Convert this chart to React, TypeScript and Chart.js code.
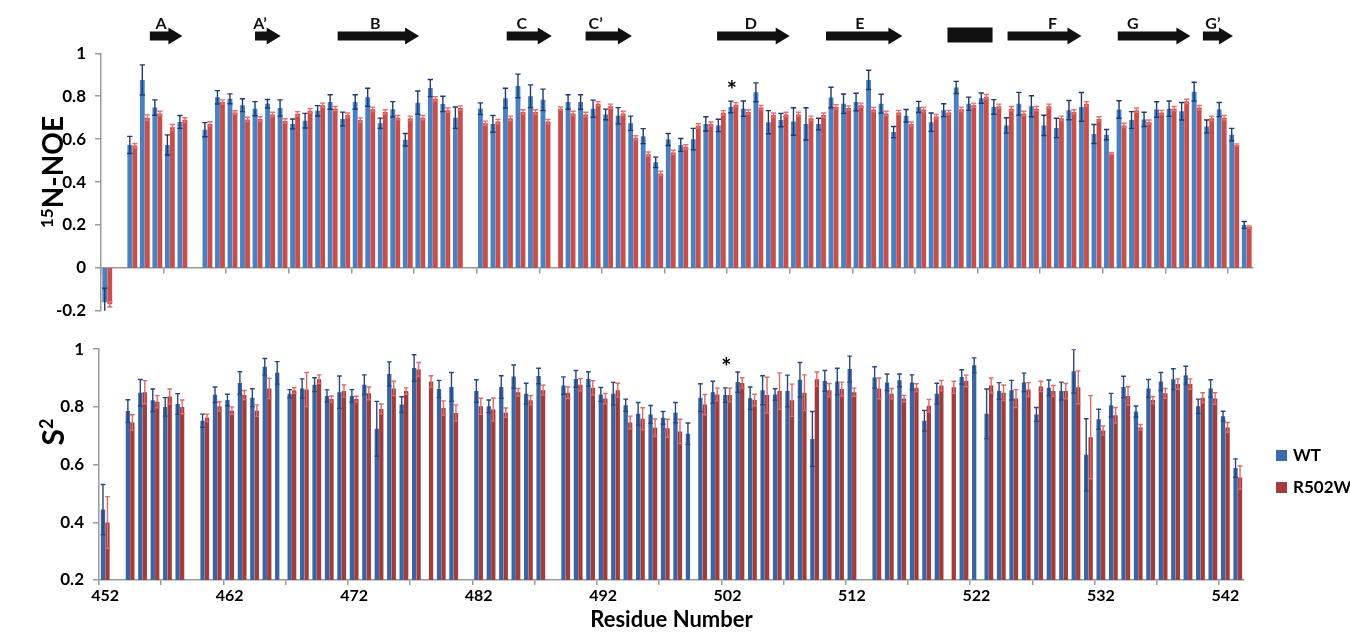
import React, { useEffect, useRef } from "react";
import { Chart, registerables } from "chart.js";

Chart.register(...registerables);

// ---------------- data ----------------
const residues = [
  452, 453, 454, 455, 456, 457, 458, 459, 460, 461,
  462, 463, 464, 465, 466, 467, 468, 469, 470, 471,
  472, 473, 474, 475, 476, 477, 478, 479, 480, 481,
  482, 483, 484, 485, 486, 487, 488, 489, 490, 491,
  492, 493, 494, 495, 496, 497, 498, 499, 500, 501,
  502, 503, 504, 505, 506, 507, 508, 509, 510, 511,
  512, 513, 514, 515, 516, 517, 518, 519, 520, 521,
  522, 523, 524, 525, 526, 527, 528, 529, 530, 531,
  532, 533, 534, 535, 536, 537, 538, 539, 540, 541,
  542, 543,
];

const wtNoe = [
  -0.16, null, 0.573, 0.876, 0.747, 0.573, 0.68, null, 0.644, 0.795,
  0.788, 0.758, 0.742, 0.765, 0.745, 0.671, 0.686, 0.732, 0.773, 0.694,
  0.773, 0.795, 0.674, 0.739, 0.597, 0.77, 0.838, 0.764, 0.7, null,
  0.742, 0.671, 0.791, 0.848, 0.8, 0.783, null, 0.773, 0.773, 0.742,
  0.715, 0.709, 0.674, 0.614, 0.492, 0.598, 0.573, 0.6, 0.671, 0.664,
  0.75, 0.742, 0.818, 0.679, 0.689, 0.682, 0.671, 0.67, 0.794, 0.765,
  0.773, 0.876, 0.765, 0.633, 0.709, 0.75, 0.679, 0.735, 0.841, 0.765,
  0.791, 0.75, 0.664, 0.765, 0.753, 0.664, 0.652, 0.735, 0.75, 0.624,
  0.621, 0.738, 0.689, 0.692, 0.738, 0.742, 0.73, 0.821, 0.659, 0.738,
  0.621, 0.2,
];
const wtNoeErr = [
  0.065, null, 0.04, 0.07, 0.036, 0.047, 0.03, null, 0.033, 0.031,
  0.023, 0.03, 0.033, 0.02, 0.038, 0.023, 0.034, 0.024, 0.034, 0.032,
  0.034, 0.042, 0.024, 0.036, 0.029, 0.054, 0.04, 0.036, 0.05, null,
  0.027, 0.039, 0.046, 0.055, 0.053, 0.05, null, 0.034, 0.034, 0.04,
  0.025, 0.038, 0.033, 0.035, 0.024, 0.028, 0.03, 0.05, 0.033, 0.029,
  0.027, 0.036, 0.044, 0.054, 0.031, 0.064, 0.075, 0.027, 0.048, 0.045,
  0.041, 0.045, 0.044, 0.026, 0.029, 0.026, 0.043, 0.03, 0.028, 0.031,
  0.024, 0.034, 0.036, 0.053, 0.049, 0.047, 0.045, 0.045, 0.067, 0.044,
  0.024, 0.041, 0.039, 0.033, 0.036, 0.036, 0.041, 0.044, 0.03, 0.033,
  0.029, 0.016,
];
const mutNoe = [
  -0.17, null, 0.57, 0.7, 0.72, 0.655, 0.69, null, 0.671, 0.773,
  0.724, 0.692, 0.694, 0.715, 0.685, 0.718, 0.732, 0.758, 0.742, 0.712,
  0.689, 0.739, 0.727, 0.7, 0.697, 0.7, 0.788, 0.735, 0.745, null,
  0.674, 0.682, 0.697, 0.727, 0.727, 0.682, 0.742, 0.72, 0.715, 0.765,
  0.753, 0.72, 0.606, 0.53, 0.44, 0.538, 0.564, 0.662, 0.67, 0.723,
  0.76, 0.727, 0.747, 0.712, 0.715, 0.715, 0.697, 0.712, 0.75, 0.745,
  0.758, 0.738, 0.72, 0.724, 0.67, 0.738, 0.705, 0.724, 0.739, 0.758,
  0.798, 0.753, 0.742, 0.72, 0.742, 0.753, 0.697, 0.727, 0.765, 0.694,
  0.533, 0.664, 0.735, 0.679, 0.724, 0.742, 0.776, 0.747, 0.697, 0.7,
  0.573, 0.19,
];
const mutNoeErr = [
  0.012, null, 0.01, 0.013, 0.01, 0.013, 0.01, null, 0.01, 0.01,
  0.008, 0.01, 0.01, 0.01, 0.01, 0.01, 0.01, 0.01, 0.01, 0.01,
  0.01, 0.01, 0.01, 0.01, 0.01, 0.01, 0.01, 0.01, 0.01, null,
  0.01, 0.01, 0.01, 0.01, 0.01, 0.01, 0.008, 0.01, 0.01, 0.01,
  0.01, 0.01, 0.01, 0.01, 0.01, 0.01, 0.01, 0.01, 0.01, 0.01,
  0.01, 0.01, 0.01, 0.01, 0.01, 0.01, 0.01, 0.01, 0.01, 0.01,
  0.01, 0.01, 0.01, 0.01, 0.01, 0.01, 0.01, 0.01, 0.01, 0.01,
  0.01, 0.01, 0.01, 0.01, 0.01, 0.01, 0.01, 0.01, 0.01, 0.01,
  0.005, 0.01, 0.01, 0.01, 0.01, 0.01, 0.01, 0.01, 0.01, 0.01,
  0.005, 0.005,
];

const wtS2 = [
  0.444, null, 0.786, 0.849, 0.823, 0.8, 0.81, null, 0.752, 0.842,
  0.824, 0.883, 0.832, 0.939, 0.918, 0.846, 0.864, 0.877, 0.838, 0.851,
  0.838, 0.877, 0.724, 0.914, 0.808, 0.935, null, 0.862, 0.869, null,
  0.855, 0.802, 0.869, 0.905, 0.846, 0.907, null, 0.874, 0.897, 0.897,
  0.843, 0.846, 0.806, 0.776, 0.774, 0.762, 0.78, 0.707, 0.832, 0.851,
  0.841, 0.886, 0.83, 0.858, 0.843, 0.855, 0.894, 0.689, 0.89, 0.888,
  0.931, null, 0.902, 0.885, 0.892, 0.885, 0.752, 0.846, null, 0.904,
  0.944, 0.776, 0.855, 0.858, 0.885, 0.774, 0.866, 0.855, 0.924, 0.634,
  0.757, 0.806, 0.869, 0.784, 0.864, 0.888, 0.896, 0.91, 0.802, 0.864,
  0.768, 0.588,
];
const wtS2Err = [
  0.087, null, 0.039, 0.046, 0.039, 0.032, 0.036, null, 0.023, 0.027,
  0.02, 0.039, 0.031, 0.029, 0.039, 0.014, 0.033, 0.024, 0.021, 0.056,
  0.022, 0.034, 0.095, 0.042, 0.027, 0.046, null, 0.03, 0.05, null,
  0.039, 0.022, 0.039, 0.04, 0.036, 0.027, null, 0.03, 0.029, 0.025,
  0.024, 0.039, 0.021, 0.039, 0.031, 0.022, 0.035, 0.037, 0.048, 0.038,
  0.025, 0.035, 0.039, 0.05, 0.02, 0.055, 0.06, 0.095, 0.036, 0.046,
  0.045, null, 0.037, 0.029, 0.022, 0.026, 0.036, 0.036, null, 0.025,
  0.026, 0.086, 0.029, 0.034, 0.032, 0.024, 0.027, 0.031, 0.076, 0.125,
  0.035, 0.041, 0.037, 0.019, 0.031, 0.031, 0.036, 0.031, 0.025, 0.03,
  0.017, 0.032,
];
const mutS2 = [
  0.399, null, 0.746, 0.851, 0.818, 0.836, 0.8, null, 0.762, 0.802,
  0.787, 0.841, 0.787, 0.864, null, 0.857, 0.86, 0.896, 0.827, 0.855,
  0.827, 0.847, 0.793, 0.864, 0.855, 0.93, 0.888, 0.796, 0.779, null,
  0.802, 0.791, 0.78, 0.851, 0.823, 0.858, null, 0.849, 0.877, 0.866,
  0.829, 0.858, 0.746, 0.759, 0.728, 0.726, 0.715, null, 0.808, 0.843,
  0.841, 0.883, 0.824, 0.841, 0.855, 0.823, 0.849, 0.896, 0.858, 0.862,
  0.851, null, 0.864, 0.846, 0.829, 0.866, 0.804, 0.874, 0.868, 0.89,
  null, 0.874, 0.849, 0.829, 0.86, 0.871, 0.855, 0.855, 0.868, 0.695,
  0.718, 0.771, 0.838, 0.729, 0.824, 0.847, 0.879, 0.879, 0.832, 0.829,
  0.729, 0.555,
];
const mutS2Err = [
  0.09, null, 0.027, 0.04, 0.021, 0.026, 0.024, null, 0.013, 0.016,
  0.013, 0.016, 0.02, 0.035, null, 0.01, 0.059, 0.015, 0.011, 0.021,
  0.01, 0.022, 0.017, 0.025, 0.011, 0.024, 0.02, 0.025, 0.028, null,
  0.028, 0.04, 0.016, 0.013, 0.016, 0.017, null, 0.02, 0.021, 0.025,
  0.018, 0.024, 0.022, 0.038, 0.03, 0.031, 0.042, null, 0.035, 0.022,
  0.024, 0.018, 0.02, 0.062, 0.063, 0.056, 0.062, 0.025, 0.023, 0.024,
  0.014, null, 0.036, 0.018, 0.011, 0.014, 0.022, 0.018, 0.021, 0.02,
  null, 0.026, 0.027, 0.031, 0.024, 0.018, 0.019, 0.026, 0.057, 0.144,
  0.016, 0.027, 0.032, 0.01, 0.012, 0.017, 0.018, 0.018, 0.017, 0.02,
  0.017, 0.04,
];

// secondary-structure annotation (residue units)
const ssLabels = ["A", "A’", "B", "C", "C’", "D", "E", "", "F", "G", "G’"];
const ssKind = ["strand", "strand", "strand", "strand", "strand", "strand", "strand", "box", "strand", "strand", "strand"];
const ssStart = [455.4, 463.8, 470.4, 483.9, 490.2, 500.7, 509.4, 519.1, 523.9, 532.7, 539.5];
const ssEnd = [458.0, 465.85, 476.9, 487.5, 493.9, 506.5, 515.5, 522.7, 529.8, 538.5, 541.9];
const ssLabelAt = [456.3, 464.2, 473.4, 485.1, 491.0, 503.4, 512.1, 520.9, 527.5, 533.9, 540.3];

const starResidue = 502;
const seriesNames = ["WT", "R502W"];

// ---------------- styling ----------------
const FONT = "Lato, 'Open Sans', 'DejaVu Sans', sans-serif";
const AXIS = "#9a9a9a";

const errorBarPlugin = {
  id: "errorBars",
  afterDatasetsDraw(chart: any) {
    const { ctx, chartArea } = chart;
    const yScale = chart.scales.y;
    ctx.save();
    ctx.beginPath();
    ctx.rect(chartArea.left, chartArea.top, chartArea.right - chartArea.left, chartArea.bottom - chartArea.top);
    ctx.clip();
    chart.data.datasets.forEach((ds: any, di: number) => {
      const meta = chart.getDatasetMeta(di);
      meta.data.forEach((bar: any, i: number) => {
        const v = ds.data[i];
        const e = ds.errors[i];
        if (v == null || e == null) return;
        const x = bar.x;
        const yT = yScale.getPixelForValue(v + e);
        const yB = yScale.getPixelForValue(v - e);
        const cap = bar.width * 0.55;
        ctx.strokeStyle = ds.errorColor;
        ctx.lineWidth = 1.4;
        ctx.beginPath();
        ctx.moveTo(x, yT);
        ctx.lineTo(x, yB);
        ctx.moveTo(x - cap, yT);
        ctx.lineTo(x + cap, yT);
        ctx.moveTo(x - cap, yB);
        ctx.lineTo(x + cap, yB);
        ctx.stroke();
      });
    });
    ctx.restore();
  },
};

const starPlugin = {
  id: "star",
  afterDatasetsDraw(chart: any, _args: any, opts: any) {
    const { ctx } = chart;
    const idx = residues.indexOf(starResidue);
    const ds = chart.data.datasets[0];
    const bar = chart.getDatasetMeta(0).data[idx];
    const top = ds.data[idx] + ds.errors[idx];
    const y = chart.scales.y.getPixelForValue(top) - opts.gap;
    ctx.save();
    ctx.fillStyle = "#000";
    ctx.font = `bold 24px ${FONT}`;
    ctx.textAlign = "center";
    ctx.textBaseline = "alphabetic";
    ctx.fillText("*", bar.x + 1, y + 12);
    ctx.restore();
  },
};

const ssPlugin = {
  id: "secondaryStructure",
  afterDraw(chart: any) {
    const { ctx } = chart;
    const xs = chart.scales.x;
    const px = (r: number) => xs.getPixelForValue(r - residues[0]);
    ctx.save();
    ctx.fillStyle = "#111";
    ssKind.forEach((kind, i) => {
      const x0 = px(ssStart[i]);
      const x1 = px(ssEnd[i]);
      if (kind === "box") {
        ctx.fillRect(x0, 27.5, x1 - x0, 15);
      } else {
        const h = 14;
        ctx.beginPath();
        ctx.moveTo(x0, 31.5);
        ctx.lineTo(x1 - h, 31.5);
        ctx.lineTo(x1 - h, 27.5);
        ctx.lineTo(x1, 36);
        ctx.lineTo(x1 - h, 44.5);
        ctx.lineTo(x1 - h, 40.5);
        ctx.lineTo(x0, 40.5);
        ctx.closePath();
        ctx.fill();
      }
      if (ssLabels[i]) {
        ctx.font = `bold 16px ${FONT}`;
        ctx.textAlign = "center";
        ctx.textBaseline = "alphabetic";
        ctx.fillText(ssLabels[i], px(ssLabelAt[i]), 29);
      }
    });
    ctx.restore();
  },
};

const tickFont = { family: FONT, size: 17, weight: "bold" as const };

function fmtTick(v: any) {
  const r = Math.round(Number(v) * 10) / 10;
  return r === 0 ? "0" : String(r);
}

function gridEvery5(ctx: any) {
  return ctx.index % 5 === 0 ? AXIS : "rgba(0,0,0,0)";
}

export default function App() {
  const topRef = useRef<HTMLCanvasElement | null>(null);
  const botRef = useRef<HTMLCanvasElement | null>(null);

  useEffect(() => {
    const labels = residues.map(String);
    const top = new Chart(topRef.current as HTMLCanvasElement, {
      type: "bar",
      data: {
        labels,
        datasets: [
          { label: seriesNames[0], data: wtNoe, errors: wtNoeErr, errorColor: "#1c3c70", backgroundColor: "#4a7fc1", categoryPercentage: 0.8, barPercentage: 0.96 } as any,
          { label: seriesNames[1], data: mutNoe, errors: mutNoeErr, errorColor: "#e87070", backgroundColor: "#c94e4a", categoryPercentage: 0.8, barPercentage: 0.96 } as any,
        ],
      },
      options: {
        responsive: false,
        animation: false,
        events: [],
        layout: { padding: { top: 53.3, bottom: 12.7, left: 0, right: 97 } },
        plugins: { legend: { display: false }, tooltip: { enabled: false }, star: { gap: 14 } } as any,
        scales: {
          x: {
            type: "category",
            position: { y: 0 } as any,
            grid: { display: true, drawOnChartArea: false, drawTicks: true, tickLength: 5, offset: true, color: gridEvery5, lineWidth: 1.5 },
            border: { display: true, color: AXIS, width: 1.5 },
            ticks: { display: false, autoSkip: false },
            afterFit: (s: any) => { s.height = 0; },
          },
          y: {
            min: -0.2,
            max: 1,
            ticks: { stepSize: 0.2, font: tickFont, color: "#000", padding: 9, callback: fmtTick },
            grid: { drawOnChartArea: false, drawTicks: true, tickLength: 6, color: AXIS, lineWidth: 1.5 },
            border: { display: true, color: AXIS, width: 1.5 },
            afterFit: (s: any) => { s.width = 101; },
          },
        },
      },
      plugins: [errorBarPlugin, starPlugin, ssPlugin],
    } as any);

    const bot = new Chart(botRef.current as HTMLCanvasElement, {
      type: "bar",
      data: {
        labels,
        datasets: [
          { label: seriesNames[0], data: wtS2, errors: wtS2Err, errorColor: "#24497f", backgroundColor: "#3b64a2", categoryPercentage: 0.72, barPercentage: 0.96 } as any,
          { label: seriesNames[1], data: mutS2, errors: mutS2Err, errorColor: "#e06a6a", backgroundColor: "#a33b3b", categoryPercentage: 0.72, barPercentage: 0.96 } as any,
        ],
      },
      options: {
        responsive: false,
        animation: false,
        events: [],
        layout: { padding: { top: 11.7, bottom: 0, left: 0, right: 106 } },
        plugins: { legend: { display: false }, tooltip: { enabled: false }, star: { gap: 24 } } as any,
        scales: {
          x: {
            type: "category",
            grid: { display: true, drawOnChartArea: false, drawTicks: true, tickLength: 5, offset: true, color: gridEvery5, lineWidth: 1.5 },
            border: { display: true, color: AXIS, width: 1.5 },
            ticks: {
              autoSkip: false,
              maxRotation: 0,
              padding: 1,
              font: { family: FONT, size: 16, weight: "bold" },
              color: "#000",
              callback: (_v: any, i: number) => (i % 10 === 0 ? String(residues[i]) : ""),
            },
            title: { display: true, text: "Residue Number", color: "#000", font: { family: FONT, size: 22, weight: "bold" }, padding: { top: 0, bottom: 1 } },
            afterFit: (s: any) => { s.height = 54; },
          },
          y: {
            min: 0.2,
            max: 1,
            ticks: { stepSize: 0.2, font: tickFont, color: "#000", padding: 9, callback: fmtTick },
            grid: { drawOnChartArea: false, drawTicks: true, tickLength: 6, color: AXIS, lineWidth: 1.5 },
            border: { display: true, color: AXIS, width: 1.5 },
            afterFit: (s: any) => { s.width = 99; },
          },
        },
      },
      plugins: [errorBarPlugin, starPlugin],
    } as any);

    return () => {
      top.destroy();
      bot.destroy();
    };
  }, []);

  const legendRow = (name: string, color: string, y: number) => (
    <div key={name} style={{ position: "absolute", left: 1276, top: y, height: 14, display: "flex", alignItems: "center" }}>
      <div style={{ width: 11, height: 11, background: color, marginRight: 6 }} />
      <span style={{ fontFamily: FONT, fontWeight: 700, fontSize: 17, color: "#000", lineHeight: "14px" }}>{name}</span>
    </div>
  );

  return (
    <div style={{ position: "absolute", left: 0, top: 0, width: 1350, height: 634, background: "#fff", overflow: "hidden" }}>
      <canvas ref={topRef} width={1350} height={330} style={{ position: "absolute", left: 0, top: 0, width: 1350, height: 330 }} />
      <canvas ref={botRef} width={1350} height={304} style={{ position: "absolute", left: 0, top: 330, width: 1350, height: 304 }} />
      <div style={{ position: "absolute", left: 52, top: 172, transform: "translate(-50%, -50%) rotate(-90deg)", whiteSpace: "nowrap", fontFamily: FONT, fontWeight: 700, fontSize: 28, color: "#000", lineHeight: 1 }}>
        <sup style={{ fontSize: 17, verticalAlign: "super", lineHeight: 0 }}>15</sup>N-NOE
      </div>
      <div style={{ position: "absolute", left: 52, top: 432, transform: "translate(-50%, -50%) rotate(-90deg)", whiteSpace: "nowrap", fontFamily: FONT, fontWeight: 700, fontSize: 30, color: "#000", lineHeight: 1 }}>
        S<sup style={{ fontSize: 18, verticalAlign: "super", lineHeight: 0 }}>2</sup>
      </div>
      {legendRow(seriesNames[0], "#3e6aa8", 448)}
      {legendRow(seriesNames[1], "#a63c3c", 480)}
    </div>
  );
}
